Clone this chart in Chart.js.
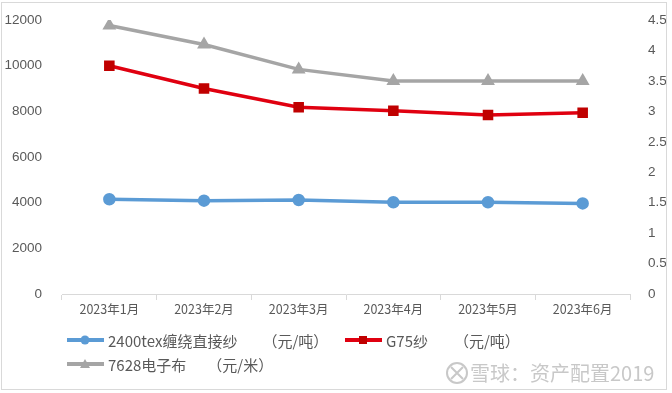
<!DOCTYPE html>
<html>
<head>
<meta charset="utf-8">
<script src="https://cdn.jsdelivr.net/npm/chart.js@4/dist/chart.umd.min.js"></script>
<style>
html,body{margin:0;padding:0;background:#fff;}
#wrap{width:672px;height:393px;position:relative;}
</style>
</head>
<body>
<div id="wrap"><canvas id="c" width="672" height="393"></canvas></div>
<script>
const categories = ['2023年1月','2023年2月','2023年3月','2023年4月','2023年5月','2023年6月'];
const yarn2400 = [4150, 4090, 4120, 4020, 4020, 3970];
const g75 = [10000, 9000, 8180, 8030, 7840, 7940];
const cloth7628 = [4.41, 4.10, 3.69, 3.50, 3.50, 3.50];
const seriesNames = ['2400tex缠绕直接纱', 'G75纱', '7628电子布'];
const seriesUnits = ['（元/吨）', '（元/吨）', '（元/米）'];
const leftTicks = [0, 2000, 4000, 6000, 8000, 10000, 12000];
const rightTicks = [0, 0.5, 1, 1.5, 2, 2.5, 3, 3.5, 4, 4.5];
const watermark = '雪球：资产配置2019';

const FONT = "'Liberation Sans', 'Noto Sans CJK SC', sans-serif";
const CJK = "'Noto Sans CJK SC', 'Liberation Sans', sans-serif";
const LEG = "'Liberation Sans Narrow', 'Noto Sans CJK SC', sans-serif";

const decor = {
  id: 'decor',
  afterDraw(chart) {
    const ctx = chart.ctx;
    ctx.save();
    ctx.strokeStyle = '#d9d9d9';
    ctx.lineWidth = 1;
    ctx.strokeRect(1.5, 2.5, 665, 387);
    const ds = chart.data.datasets;
    const items = [
      {i:0, x:67, y:340, gap:31},
      {i:1, x:345, y:340, gap:32},
      {i:2, x:67, y:364, gap:27}
    ];
    items.forEach(it => {
      const d = ds[it.i];
      ctx.strokeStyle = d.borderColor;
      ctx.lineWidth = 4;
      ctx.beginPath();
      ctx.moveTo(it.x, it.y);
      ctx.lineTo(it.x + 37, it.y);
      ctx.stroke();
      const cx = it.x + 18;
      ctx.fillStyle = d.pointBackgroundColor;
      if (d.pointStyle === 'circle') {
        ctx.beginPath(); ctx.arc(cx, it.y, 4.5, 0, Math.PI*2); ctx.fill();
      } else if (d.pointStyle === 'rect') {
        ctx.fillRect(cx-4, it.y-4, 8, 8);
      } else {
        ctx.beginPath(); ctx.moveTo(cx, it.y-5); ctx.lineTo(cx+5, it.y+4); ctx.lineTo(cx-5, it.y+4); ctx.closePath(); ctx.fill();
      }
      ctx.fillStyle = '#595959';
      ctx.font = '15px ' + LEG;
      ctx.textBaseline = 'middle';
      ctx.textAlign = 'left';
      const tx = it.x + 41;
      ctx.fillText(d.label, tx, it.y + 1);
      const w = ctx.measureText(d.label).width;
      ctx.fillText(seriesUnits[it.i], tx + w + it.gap - 6, it.y + 1);
    });
    ctx.fillStyle = 'rgba(190,190,190,0.85)';
    ctx.font = '20px ' + CJK;
    ctx.textBaseline = 'middle';
    ctx.fillText(watermark, 470, 373);
    ctx.strokeStyle = 'rgba(190,190,190,0.85)';
    ctx.lineWidth = 2;
    ctx.beginPath(); ctx.arc(457, 373, 10, 0, Math.PI*2); ctx.stroke();
    ctx.beginPath(); ctx.moveTo(451, 367); ctx.lineTo(463, 379); ctx.moveTo(463, 367); ctx.lineTo(451, 379); ctx.stroke();
    ctx.restore();
  }
};

new Chart(document.getElementById('c'), {
  type: 'line',
  data: {
    labels: categories,
    datasets: [
      {label: seriesNames[0], data: yarn2400, yAxisID: 'y', borderColor: '#5B9BD5', pointBackgroundColor: '#5B9BD5', pointBorderColor: '#5B9BD5', backgroundColor: '#5B9BD5', borderWidth: 3.5, pointStyle: 'circle', pointRadius: 4.5, tension: 0},
      {label: seriesNames[1], data: g75, yAxisID: 'y', borderColor: '#E00010', pointBackgroundColor: '#C00000', pointBorderColor: '#C00000', backgroundColor: '#C00000', borderWidth: 3.5, pointStyle: 'rect', pointRadius: 5, tension: 0},
      {label: seriesNames[2], data: cloth7628, yAxisID: 'y1', borderColor: '#A5A5A5', pointBackgroundColor: '#A5A5A5', pointBorderColor: '#A5A5A5', backgroundColor: '#A5A5A5', borderWidth: 3.5, pointStyle: 'triangle', pointRadius: 4.5, tension: 0}
    ]
  },
  options: {
    responsive: false,
    animation: false,
    devicePixelRatio: 1,
    layout: {padding: {top: 14, left: 0, right: 0, bottom: 69}},
    plugins: {legend: {display: false}, tooltip: {enabled: false}},
    scales: {
      x: {
        offset: true,
        grid: {display: true, drawOnChartArea: false, drawTicks: true, tickLength: 6, color: '#d9d9d9', offset: true},
        border: {display: true, color: '#d9d9d9'},
        ticks: {color: '#595959', font: {size: 12.5, family: CJK}, padding: 2, maxRotation: 0, autoSkip: false},
        afterFit(s) { s.height = 30; }
      },
      y: {
        position: 'left',
        min: 0, max: 12000,
        afterBuildTicks(s) { s.ticks = leftTicks.map(v => ({value: v})); },
        grid: {display: false},
        border: {display: false},
        ticks: {color: '#595959', font: {size: 13.5, family: FONT}, padding: 12, callback: v => String(v)},
        afterFit(s) { s.width = 62; }
      },
      y1: {
        position: 'right',
        min: 0, max: 4.5,
        afterBuildTicks(s) { s.ticks = rightTicks.map(v => ({value: v})); },
        grid: {display: false},
        border: {display: false},
        ticks: {color: '#595959', font: {size: 13.5, family: FONT}, padding: 10, callback: v => String(v)},
        afterFit(s) { s.width = 42; }
      }
    }
  },
  plugins: [decor]
});
</script>
</body>
</html>
